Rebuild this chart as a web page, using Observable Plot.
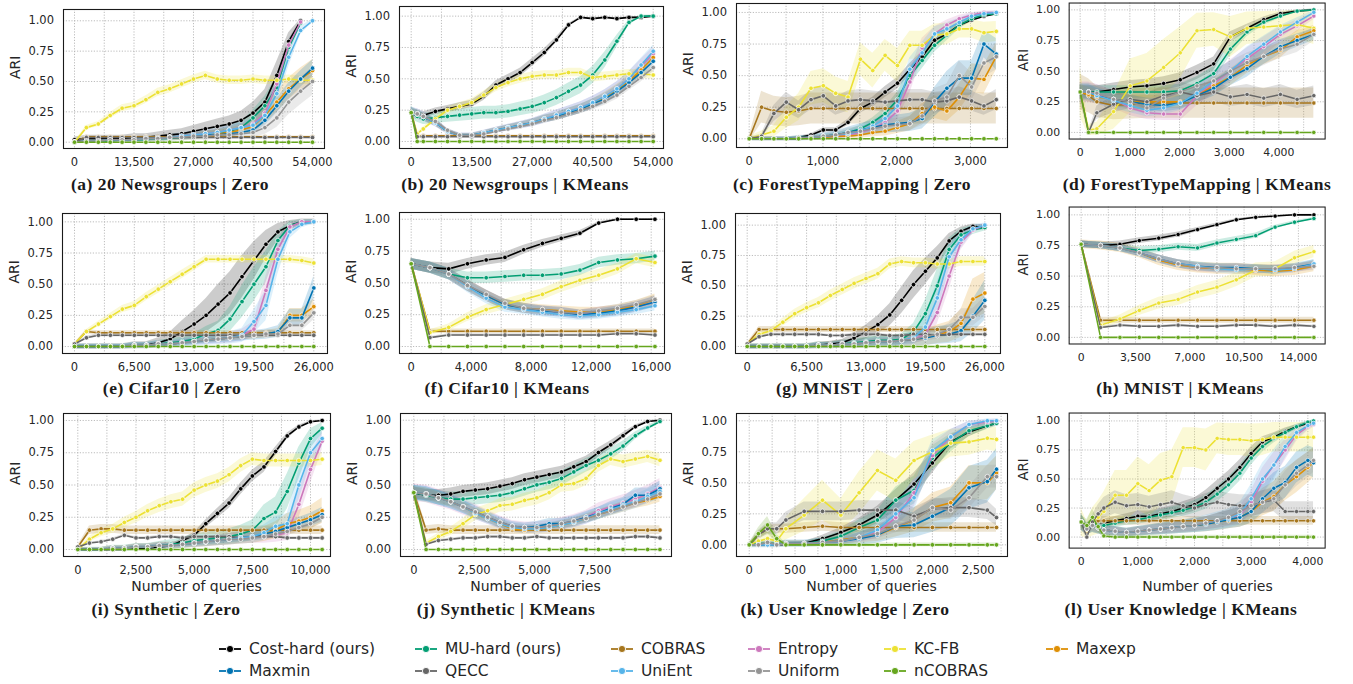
<!DOCTYPE html>
<html><head><meta charset="utf-8">
<script src="https://cdn.jsdelivr.net/npm/d3@7"></script>
<script src="https://cdn.jsdelivr.net/npm/@observablehq/plot@0.6"></script>
<style>
body{margin:0;background:#fff;width:1353px;height:684px;overflow:hidden;position:relative;font-family:"DejaVu Sans",sans-serif;}
.panel{position:absolute;}
.title{position:absolute;font-family:"Liberation Serif",serif;font-weight:bold;font-size:17.5px;letter-spacing:0.5px;white-space:nowrap;transform:translate(-50%,-50%);color:#1a1a1a;}
.xlab{position:absolute;font-size:14px;white-space:nowrap;transform:translate(-50%,-50%);color:#262626;}
.leg{position:absolute;display:flex;align-items:center;font-size:15.5px;color:#262626;white-space:nowrap;transform:translateY(-50%);}
.leg svg{margin-right:8px;}
</style></head><body>
<script>
const SERIES = ["Cost-hard (ours)","MU-hard (ours)","COBRAS","Entropy","KC-FB","Maxexp","Maxmin","QECC","UniEnt","Uniform","nCOBRAS"];
const COLORS = ["#000000","#029e73","#a6761d","#cc78bc","#ece133","#de8f05","#0173b2","#666666","#56b4e9","#949494","#66a61e"];
const Y_TICKS = [0,0.25,0.5,0.75,1];

// (a) 20 Newsgroups | Zero
const xA = [0,2700,5400,8100,10800,13500,16200,18900,21600,24300,27000,29700,32400,35100,37800,40500,43200,45900,48600,51300,54000];
const yA = [
 [0.02,0.03,0.03,0.03,0.03,0.04,0.04,0.05,0.06,0.07,0.09,0.11,0.13,0.15,0.18,0.24,0.33,0.55,0.83,1.0,null],
 [0,0.01,0.01,0.01,0.02,0.02,0.02,0.03,0.03,0.04,0.05,0.06,0.07,0.09,0.12,0.2,0.3,0.45,0.78,0.98,null],
 [0,0.045,0.045,0.045,0.045,0.045,0.045,0.045,0.045,0.045,0.045,0.045,0.045,0.045,0.045,0.045,0.045,0.045,0.045,0.045,0.045],
 [0,0.01,0.01,0.02,0.02,0.02,0.03,0.03,0.04,0.05,0.06,0.07,0.08,0.1,0.12,0.15,0.24,0.48,0.8,0.99,null],
 [0,0.12,0.15,0.22,0.28,0.30,0.35,0.41,0.44,0.48,0.52,0.55,0.52,0.51,0.51,0.52,0.51,0.51,0.52,0.51,0.51],
 [0,0.01,0.01,0.02,0.02,0.02,0.03,0.03,0.04,0.04,0.05,0.06,0.07,0.08,0.1,0.13,0.22,0.33,0.44,0.52,0.59],
 [0,0.01,0.01,0.02,0.02,0.02,0.03,0.03,0.04,0.04,0.05,0.06,0.06,0.07,0.08,0.1,0.18,0.3,0.42,0.52,0.61],
 [0,0.038,0.038,0.038,0.038,0.038,0.038,0.038,0.038,0.038,0.038,0.038,0.038,0.038,0.038,0.038,0.038,0.038,0.038,0.038,0.038],
 [0,0.01,0.01,0.02,0.02,0.02,0.03,0.03,0.04,0.05,0.06,0.07,0.08,0.1,0.12,0.14,0.22,0.4,0.7,0.92,1.0],
 [0,0.01,0.01,0.02,0.02,0.02,0.03,0.03,0.04,0.04,0.05,0.05,0.06,0.06,0.07,0.08,0.12,0.2,0.33,0.42,0.5],
 [0,0,0,0,0,0,0,0,0,0,0,0,0,0,0,0,0,0,0,0,0]
];
const sA = [0.1,0.08,0.02,0.06,0.03,0.08,0.06,0.02,0.08,0.1,0];
const ticksA = [0,13500,27000,40500,54000];
const gridA = [0,6750,13500,20250,27000,33750,40500,47250,54000];

// (b) 20 Newsgroups | KMeans
const xB = [0,1350,2700,5400,8100,10800,13500,16200,18900,21600,24300,27000,29700,32400,35100,37800,40500,43200,45900,48600,51300,54000];
const yB = [
 [0.23,0.2,0.21,0.24,0.26,0.28,0.3,0.36,0.45,0.5,0.55,0.63,0.71,0.81,0.93,0.99,0.98,0.99,0.98,0.99,0.99,1.0],
 [0.23,0.2,0.18,0.19,0.2,0.21,0.22,0.23,0.23,0.24,0.26,0.28,0.31,0.35,0.4,0.45,0.53,0.65,0.8,0.95,1.0,1.0],
 [0.23,0.045,0.045,0.045,0.045,0.045,0.045,0.045,0.045,0.045,0.045,0.045,0.045,0.045,0.045,0.045,0.045,0.045,0.045,0.045,0.045,0.045],
 [0.23,0.22,0.2,0.15,0.08,0.05,0.05,0.07,0.09,0.11,0.13,0.15,0.18,0.21,0.24,0.27,0.31,0.36,0.42,0.5,0.6,0.7],
 [0.23,0.06,0.1,0.18,0.25,0.28,0.31,0.37,0.43,0.47,0.5,0.52,0.53,0.53,0.55,0.55,0.51,0.52,0.53,0.54,0.54,0.53],
 [0.23,0.22,0.2,0.15,0.08,0.05,0.05,0.07,0.09,0.11,0.13,0.15,0.18,0.2,0.23,0.26,0.3,0.35,0.41,0.48,0.57,0.67],
 [0.23,0.22,0.2,0.15,0.08,0.05,0.05,0.07,0.09,0.11,0.13,0.15,0.18,0.2,0.23,0.26,0.3,0.34,0.4,0.47,0.55,0.64],
 [0.23,0.038,0.038,0.038,0.038,0.038,0.038,0.038,0.038,0.038,0.038,0.038,0.038,0.038,0.038,0.038,0.038,0.038,0.038,0.038,0.038,0.038],
 [0.23,0.22,0.2,0.15,0.08,0.05,0.05,0.07,0.09,0.11,0.13,0.15,0.18,0.21,0.24,0.27,0.31,0.36,0.42,0.5,0.61,0.72],
 [0.23,0.22,0.2,0.16,0.09,0.05,0.05,0.06,0.08,0.1,0.12,0.14,0.17,0.19,0.22,0.25,0.28,0.32,0.37,0.44,0.51,0.59],
 [0.23,0,0,0,0,0,0,0,0,0,0,0,0,0,0,0,0,0,0,0,0,0]
];
const sB = [0.03,0.06,0.02,0.05,0.03,0.04,0.04,0.02,0.05,0.03,0];
const ticksB = [0,13500,27000,40500,54000];
const gridB = [0,6750,13500,20250,27000,33750,40500,47250,54000];

// (c) ForestTypeMapping | Zero
const xC = [0,168,335,503,670,838,1005,1173,1340,1508,1675,1843,2010,2178,2345,2513,2680,2848,3015,3183,3350];
const yC = [
 [0,0,0,0,0.01,0.03,0.07,0.07,0.13,0.24,0.29,0.37,0.44,0.55,0.65,0.78,0.83,0.9,0.94,0.97,0.99],
 [0,0,0,0,0.01,0.01,0.02,0.03,0.05,0.08,0.13,0.2,0.31,0.5,0.62,0.74,0.82,0.9,0.95,0.98,0.99],
 [0,0.25,0.22,0.21,0.22,0.24,0.24,0.24,0.24,0.24,0.24,0.24,0.24,0.24,0.24,0.24,0.24,0.24,0.24,0.24,0.24],
 [0,0,0,0,0,0.01,0.01,0.02,0.03,0.05,0.08,0.13,0.22,0.45,0.72,0.83,0.9,0.95,0.98,1.0,1.0],
 [0,0.03,0.06,0.17,0.25,0.4,0.42,0.36,0.33,0.63,0.54,0.66,0.58,0.74,0.74,0.82,0.83,0.87,0.87,0.84,0.85],
 [0,0,0,0,0,0.01,0.01,0.02,0.02,0.03,0.05,0.06,0.09,0.12,0.2,0.25,0.22,0.33,0.48,0.47,0.65],
 [0,0,0,0,0,0.01,0.02,0.03,0.05,0.07,0.09,0.11,0.12,0.13,0.16,0.29,0.4,0.48,0.48,0.75,0.67],
 [0,0.02,0.2,0.29,0.23,0.31,0.34,0.26,0.3,0.31,0.3,0.29,0.3,0.31,0.31,0.29,0.3,0.33,0.3,0.26,0.31],
 [0,0,0,0,0.01,0.01,0.02,0.03,0.04,0.06,0.1,0.16,0.26,0.55,0.68,0.83,0.87,0.92,0.97,0.99,1.0],
 [0,0,0,0,0.01,0.01,0.02,0.03,0.05,0.06,0.08,0.1,0.11,0.12,0.18,0.3,0.33,0.5,0.41,0.6,0.65],
 [0,0,0,0,0,0,0,0,0,0,0,0,0,0,0,0,0,0,0,0,0]
];
const sC = [0.04,0.06,0.14,0.08,0.12,0.1,0.12,0.08,0.08,0.1,0.01];
const ticksC = [0,1000,2000,3000];
const gridC = [0,500,1000,1500,2000,2500,3000,3500];

// (d) ForestTypeMapping | KMeans
const xD = [0,168,336,672,1008,1344,1680,2016,2352,2688,3024,3360,3696,4032,4368,4704];
const yD = [
 [0.33,0.33,0.33,0.35,0.37,0.38,0.4,0.43,0.49,0.56,0.78,0.85,0.92,0.97,0.99,1.0],
 [0.33,0.33,0.33,0.33,0.33,0.33,0.33,0.34,0.4,0.48,0.68,0.82,0.9,0.95,0.99,1.0],
 [0.33,0.3,0.25,0.22,0.23,0.24,0.24,0.24,0.24,0.24,0.24,0.24,0.24,0.24,0.24,0.24],
 [0.33,0.33,0.31,0.27,0.2,0.16,0.15,0.15,0.3,0.4,0.5,0.6,0.7,0.8,0.87,0.95],
 [0.33,0.02,0.03,0.17,0.38,0.42,0.53,0.65,0.83,0.84,0.78,0.85,0.86,0.87,0.88,0.85],
 [0.33,0.31,0.29,0.27,0.25,0.25,0.25,0.25,0.3,0.38,0.45,0.55,0.62,0.67,0.78,0.83],
 [0.33,0.33,0.3,0.27,0.25,0.23,0.22,0.24,0.3,0.36,0.45,0.52,0.62,0.7,0.75,0.8],
 [0.33,0.0,0.16,0.23,0.27,0.25,0.3,0.33,0.3,0.33,0.29,0.31,0.28,0.31,0.27,0.3],
 [0.33,0.33,0.3,0.26,0.22,0.18,0.2,0.24,0.32,0.42,0.5,0.62,0.72,0.82,0.9,0.98],
 [0.33,0.33,0.32,0.27,0.25,0.2,0.28,0.33,0.38,0.42,0.5,0.57,0.62,0.68,0.72,0.8],
 [0.33,0,0,0,0,0,0,0,0,0,0,0,0,0,0,0]
];
const sD = [0.05,0.05,0.14,0.08,0.2,0.06,0.06,0.08,0.07,0.07,0.01];
const ticksD = [0,1000,2000,3000,4000];
const gridD = [0,500,1000,1500,2000,2500,3000,3500,4000,4500];

// (e) Cifar10 | Zero
const xE = [0,1300,2600,3900,5200,6500,7800,9100,10400,11700,13000,14300,15600,16900,18200,19500,20800,22100,23400,24700,26000];
const yE = [
 [0,0,0,0,0,0.01,0.01,0.03,0.06,0.12,0.18,0.25,0.34,0.43,0.56,0.69,0.82,0.92,0.97,1.0,1.0],
 [0,0,0,0,0,0.01,0.01,0.02,0.03,0.04,0.06,0.1,0.13,0.22,0.36,0.5,0.64,0.85,0.97,1.0,1.0],
 [0.02,0.12,0.11,0.11,0.11,0.11,0.11,0.11,0.11,0.11,0.11,0.11,0.11,0.11,0.11,0.11,0.11,0.11,0.11,0.11,0.11],
 [0,0,0,0,0,0.01,0.01,0.02,0.02,0.03,0.04,0.05,0.06,0.07,0.09,0.14,0.45,0.78,0.96,1.0,1.0],
 [0.02,0.12,0.18,0.24,0.3,0.33,0.4,0.46,0.52,0.58,0.64,0.7,0.7,0.7,0.7,0.7,0.7,0.7,0.7,0.69,0.67],
 [0,0,0,0,0,0.01,0.01,0.02,0.02,0.03,0.04,0.05,0.06,0.07,0.08,0.09,0.1,0.11,0.25,0.25,0.32],
 [0,0,0,0,0,0.01,0.01,0.02,0.02,0.03,0.04,0.05,0.06,0.07,0.08,0.09,0.1,0.12,0.23,0.23,0.47],
 [0.02,0.07,0.09,0.09,0.09,0.09,0.09,0.09,0.09,0.09,0.09,0.09,0.09,0.09,0.09,0.09,0.09,0.09,0.09,0.09,0.09],
 [0,0,0,0,0,0.01,0.01,0.02,0.02,0.03,0.04,0.05,0.06,0.07,0.09,0.2,0.33,0.7,0.92,0.98,1.0],
 [0,0,0,0,0,0.01,0.01,0.02,0.02,0.03,0.04,0.05,0.06,0.07,0.08,0.09,0.1,0.1,0.17,0.17,0.27],
 [0,0,0,0,0,0,0,0,0,0,0,0,0,0,0,0,0,0,0,0,0]
];
const sE = [0.15,0.12,0.03,0.1,0.03,0.06,0.08,0.03,0.12,0.06,0];
const ticksE = [0,6500,13000,19500,26000];
const gridE = [0,3250,6500,9750,13000,16250,19500,22750,26000];

// (f) Cifar10 | KMeans
const xF = [0,1250,2500,3750,5000,6250,7500,8750,10000,11250,12500,13750,15000,16250];
const yF = [
 [0.65,0.62,0.61,0.65,0.68,0.7,0.76,0.81,0.85,0.89,0.97,1.0,1.0,1.0],
 [0.65,0.62,0.57,0.54,0.54,0.55,0.56,0.56,0.57,0.6,0.66,0.68,0.69,0.71],
 [0.65,0.12,0.12,0.12,0.12,0.12,0.12,0.12,0.12,0.12,0.12,0.12,0.12,0.12],
 [0.65,0.62,0.57,0.48,0.4,0.33,0.3,0.28,0.27,0.25,0.27,0.28,0.31,0.35],
 [0.65,0.11,0.15,0.23,0.29,0.33,0.37,0.41,0.47,0.52,0.56,0.61,0.69,0.66],
 [0.65,0.62,0.57,0.48,0.4,0.33,0.3,0.29,0.28,0.27,0.27,0.29,0.32,0.37],
 [0.65,0.62,0.57,0.48,0.4,0.33,0.3,0.28,0.27,0.25,0.26,0.28,0.31,0.35],
 [0.65,0.07,0.09,0.09,0.09,0.09,0.09,0.09,0.09,0.09,0.09,0.1,0.1,0.09],
 [0.65,0.62,0.57,0.47,0.38,0.31,0.29,0.27,0.25,0.24,0.25,0.27,0.29,0.32],
 [0.65,0.62,0.57,0.48,0.41,0.34,0.3,0.29,0.27,0.26,0.28,0.3,0.33,0.37],
 [0.65,0,0,0,0,0,0,0,0,0,0,0,0,0]
];
const sF = [0.04,0.04,0.03,0.04,0.04,0.04,0.04,0.02,0.04,0.03,0];
const ticksF = [0,4000,8000,12000,16000];
const gridF = [0,2000,4000,6000,8000,10000,12000,14000,16000];

// (g) MNIST | Zero
const xG = [0,1300,2600,3900,5200,6500,7800,9100,10400,11700,13000,14300,15600,16900,18200,19500,20800,22100,23400,24700,26000];
const yG = [
 [0,0,0,0,0,0,0.01,0.02,0.03,0.07,0.12,0.18,0.26,0.38,0.51,0.62,0.73,0.87,0.95,0.99,0.98],
 [0,0,0,0,0,0,0.01,0.01,0.02,0.03,0.04,0.05,0.05,0.06,0.12,0.27,0.5,0.8,0.92,0.96,0.98],
 [0.02,0.14,0.14,0.14,0.14,0.14,0.14,0.14,0.14,0.14,0.14,0.14,0.14,0.14,0.14,0.14,0.14,0.14,0.14,0.14,0.14],
 [0,0,0,0,0,0,0.01,0.01,0.02,0.02,0.03,0.04,0.04,0.05,0.06,0.1,0.28,0.58,0.86,0.96,1.0],
 [0.02,0.1,0.13,0.2,0.27,0.32,0.36,0.42,0.47,0.52,0.56,0.6,0.68,0.7,0.69,0.69,0.68,0.68,0.7,0.7,0.7],
 [0,0,0,0,0,0,0.01,0.01,0.02,0.02,0.03,0.04,0.04,0.05,0.06,0.07,0.1,0.12,0.19,0.39,0.44],
 [0,0,0,0,0,0,0.01,0.01,0.02,0.02,0.03,0.04,0.04,0.05,0.06,0.07,0.09,0.1,0.13,0.25,0.38],
 [0.02,0.08,0.1,0.1,0.1,0.1,0.1,0.09,0.09,0.1,0.1,0.1,0.09,0.09,0.1,0.1,0.09,0.1,0.1,0.1,0.1],
 [0,0,0,0,0,0,0.01,0.01,0.02,0.02,0.03,0.04,0.04,0.05,0.07,0.16,0.4,0.74,0.88,0.97,1.0],
 [0,0,0,0,0,0,0.01,0.01,0.02,0.02,0.03,0.04,0.04,0.05,0.06,0.08,0.1,0.14,0.24,0.24,0.33],
 [0,0,0,0,0,0,0,0,0,0,0,0,0,0,0,0,0,0,0,0,0]
];
const sG = [0.1,0.12,0.04,0.1,0.04,0.15,0.15,0.02,0.12,0.08,0];
const ticksG = [0,6500,13000,19500,26000];
const gridG = [0,3250,6500,9750,13000,16250,19500,22750,26000];

// (h) MNIST | KMeans
const xH = [0,1250,2500,3750,5000,6250,7500,8750,10000,11250,12500,13750,15000];
const yH = [
 [0.76,0.75,0.76,0.79,0.81,0.84,0.88,0.92,0.96,0.98,0.99,1.0,1.0],
 [0.76,0.75,0.73,0.71,0.72,0.74,0.73,0.77,0.8,0.83,0.9,0.94,0.97],
 [0.76,0.14,0.14,0.14,0.14,0.14,0.14,0.14,0.14,0.14,0.14,0.14,0.14],
 [0.76,0.75,0.73,0.69,0.64,0.6,0.57,0.56,0.57,0.55,0.56,0.56,0.59],
 [0.76,0.1,0.15,0.22,0.28,0.31,0.37,0.41,0.47,0.55,0.56,0.65,0.7],
 [0.76,0.75,0.73,0.69,0.63,0.59,0.57,0.56,0.56,0.55,0.54,0.55,0.58],
 [0.76,0.75,0.73,0.69,0.64,0.6,0.58,0.57,0.57,0.56,0.55,0.57,0.6],
 [0.76,0.08,0.1,0.09,0.09,0.1,0.09,0.09,0.1,0.1,0.09,0.1,0.09],
 [0.76,0.75,0.73,0.69,0.64,0.6,0.58,0.56,0.55,0.56,0.55,0.56,0.6],
 [0.76,0.75,0.73,0.69,0.64,0.6,0.57,0.57,0.56,0.56,0.56,0.57,0.58],
 [0.76,0,0,0,0,0,0,0,0,0,0,0,0]
];
const sH = [0.03,0.03,0.04,0.03,0.05,0.04,0.03,0.02,0.03,0.03,0];
const ticksH = [0,3500,7000,10500,14000];
const gridH = [0,1750,3500,5250,7000,8750,10500,12250,14000];

// (i) Synthetic | Zero
const xI = [0,500,1000,1500,2000,2500,3000,3500,4000,4500,5000,5500,6000,6500,7000,7500,8000,8500,9000,9500,10000,10500];
const yI = [
 [0,0,0,0,0,0.01,0.01,0.02,0.03,0.07,0.11,0.2,0.28,0.36,0.47,0.57,0.64,0.76,0.88,0.95,0.99,1.0],
 [0,0,0,0.01,0.01,0.02,0.02,0.03,0.04,0.05,0.07,0.08,0.09,0.1,0.12,0.15,0.24,0.29,0.45,0.67,0.86,0.94],
 [0.02,0.15,0.16,0.16,0.15,0.15,0.15,0.15,0.15,0.15,0.15,0.15,0.15,0.15,0.15,0.15,0.15,0.15,0.15,0.15,0.15,0.15],
 [0,0,0,0.01,0.01,0.02,0.02,0.03,0.03,0.04,0.05,0.06,0.07,0.08,0.09,0.1,0.1,0.11,0.13,0.35,0.62,0.84],
 [0,0.08,0.13,0.16,0.21,0.25,0.3,0.34,0.37,0.39,0.46,0.5,0.53,0.58,0.65,0.7,0.69,0.69,0.69,0.69,0.69,0.7],
 [0,0,0,0.01,0.01,0.02,0.02,0.03,0.03,0.04,0.05,0.06,0.07,0.08,0.09,0.1,0.12,0.15,0.2,0.22,0.25,0.3],
 [0,0,0,0.01,0.01,0.02,0.02,0.03,0.03,0.04,0.05,0.06,0.07,0.08,0.09,0.1,0.12,0.14,0.17,0.2,0.23,0.27],
 [0.02,0.05,0.06,0.08,0.11,0.09,0.09,0.1,0.1,0.09,0.1,0.1,0.1,0.1,0.09,0.1,0.1,0.1,0.09,0.09,0.09,0.09],
 [0,0,0,0.01,0.01,0.02,0.02,0.03,0.03,0.04,0.05,0.06,0.07,0.08,0.09,0.1,0.13,0.18,0.2,0.5,0.75,0.86],
 [0,0,0,0.01,0.01,0.02,0.02,0.03,0.03,0.04,0.05,0.06,0.07,0.08,0.08,0.09,0.1,0.12,0.14,0.17,0.2,0.25],
 [0,0,0,0,0,0,0,0,0,0,0,0,0,0,0,0,0,0,0,0,0,0]
];
const sI = [0.04,0.12,0.05,0.1,0.05,0.1,0.06,0.02,0.1,0.05,0];
const ticksI = [0,2500,5000,7500,10000];
const gridI = [0,1250,2500,3750,5000,6250,7500,8750,10000];

// (j) Synthetic | KMeans
const xJ = [0,510,1020,1530,2040,2550,3060,3570,4080,4590,5100,5610,6120,6630,7140,7650,8160,8670,9180,9690,10200];
const yJ = [
 [0.44,0.42,0.42,0.43,0.45,0.46,0.47,0.49,0.51,0.54,0.56,0.58,0.6,0.64,0.68,0.75,0.81,0.88,0.95,0.99,1.0],
 [0.44,0.42,0.4,0.39,0.39,0.4,0.41,0.42,0.44,0.47,0.5,0.52,0.55,0.6,0.65,0.69,0.74,0.8,0.88,0.94,0.99],
 [0.44,0.15,0.16,0.15,0.15,0.15,0.15,0.15,0.15,0.15,0.15,0.15,0.15,0.15,0.15,0.15,0.15,0.15,0.15,0.15,0.15],
 [0.44,0.43,0.4,0.37,0.33,0.29,0.25,0.21,0.18,0.17,0.17,0.18,0.2,0.22,0.25,0.3,0.33,0.36,0.39,0.43,0.48],
 [0.44,0.05,0.1,0.14,0.2,0.27,0.3,0.34,0.35,0.38,0.4,0.44,0.5,0.51,0.55,0.65,0.7,0.68,0.7,0.72,0.69],
 [0.44,0.43,0.4,0.37,0.33,0.28,0.24,0.2,0.16,0.15,0.16,0.17,0.19,0.21,0.24,0.27,0.3,0.33,0.36,0.38,0.41],
 [0.44,0.43,0.4,0.37,0.33,0.29,0.25,0.21,0.18,0.17,0.18,0.2,0.2,0.22,0.25,0.28,0.32,0.35,0.42,0.42,0.47],
 [0.44,0.04,0.07,0.08,0.09,0.09,0.1,0.1,0.09,0.09,0.1,0.09,0.09,0.09,0.09,0.09,0.09,0.09,0.1,0.1,0.09],
 [0.44,0.43,0.4,0.37,0.33,0.28,0.24,0.2,0.17,0.16,0.16,0.17,0.19,0.21,0.24,0.28,0.31,0.34,0.37,0.41,0.45],
 [0.44,0.43,0.4,0.37,0.33,0.29,0.25,0.21,0.18,0.17,0.17,0.18,0.2,0.22,0.24,0.27,0.3,0.33,0.36,0.39,0.43],
 [0.44,0,0,0,0,0,0,0,0,0,0,0,0,0,0,0,0,0,0,0,0]
];
const sJ = [0.04,0.05,0.05,0.06,0.05,0.04,0.05,0.02,0.05,0.03,0];
const ticksJ = [0,2500,5000,7500];
const gridJ = [0,1250,2500,3750,5000,6250,7500,8750,10000];

// (k) User Knowledge | Zero
const xK = [0,100,200,300,400,600,800,1000,1200,1400,1600,1800,2000,2200,2400,2600,2700];
const yK = [
 [0,0,0,0,0.005,0.01,0.05,0.1,0.16,0.24,0.36,0.49,0.66,0.83,0.91,0.96,0.98],
 [0,0.01,0.01,0.01,0.01,0.01,0.03,0.07,0.14,0.2,0.36,0.44,0.7,0.82,0.92,0.96,0.98],
 [0,0.08,0.13,0.13,0.13,0.14,0.15,0.14,0.14,0.14,0.14,0.14,0.14,0.14,0.14,0.14,0.14],
 [0,0,0,0,0.01,0.01,0.02,0.03,0.06,0.1,0.22,0.42,0.72,0.87,0.97,0.99,1.0],
 [0,0.03,0.05,0.03,0.13,0.24,0.36,0.24,0.42,0.6,0.52,0.68,0.75,0.82,0.83,0.86,0.85],
 [0,0,0,0,0.01,0.01,0.02,0.04,0.06,0.08,0.14,0.2,0.3,0.34,0.5,0.5,0.58],
 [0,0,0,0,0.01,0.01,0.02,0.03,0.05,0.08,0.15,0.16,0.23,0.3,0.46,0.51,0.61],
 [0,0.08,0.13,0.13,0.2,0.27,0.27,0.27,0.28,0.28,0.28,0.23,0.29,0.3,0.3,0.28,0.22],
 [0,0,0,0,0.01,0.01,0.02,0.03,0.06,0.12,0.25,0.38,0.76,0.87,0.97,1.0,1.0],
 [0,0,0.02,0,0.01,0.01,0.02,0.03,0.06,0.09,0.15,0.2,0.3,0.28,0.38,0.55,0.55],
 [0,0.09,0.16,0.05,0,0,0,0,0,0,0,0,0,0,0,0,0]
];
const sK = [0.08,0.1,0.06,0.1,0.15,0.12,0.15,0.08,0.1,0.08,0.1];
const ticksK = [0,500,1000,1500,2000,2500];
const gridK = [0,250,500,750,1000,1250,1500,1750,2000,2250,2500,2750];

// (l) User Knowledge | KMeans
const xL = [0,100,200,300,400,600,800,1000,1200,1400,1600,1800,2000,2200,2400,2600,2800,3000,3200,3400,3600,3800,4000,4100];
const yL = [
 [0.13,0.06,0.12,0.11,0.12,0.14,0.16,0.18,0.18,0.2,0.22,0.25,0.28,0.34,0.42,0.5,0.6,0.72,0.82,0.86,0.91,0.95,0.98,0.99],
 [0.13,0.06,0.12,0.1,0.1,0.12,0.14,0.15,0.17,0.19,0.21,0.23,0.26,0.3,0.37,0.45,0.55,0.68,0.78,0.85,0.9,0.95,0.99,1.0],
 [0.13,0.05,0.12,0.14,0.14,0.14,0.14,0.14,0.14,0.14,0.14,0.14,0.14,0.14,0.14,0.14,0.14,0.14,0.14,0.14,0.14,0.14,0.14,0.14],
 [0.13,0.07,0.1,0.08,0.06,0.05,0.04,0.05,0.06,0.07,0.08,0.09,0.1,0.12,0.14,0.16,0.19,0.3,0.48,0.62,0.75,0.88,0.95,0.97],
 [0.13,0.06,0.13,0.17,0.22,0.36,0.36,0.46,0.4,0.49,0.52,0.77,0.77,0.75,0.85,0.84,0.84,0.83,0.84,0.86,0.86,0.86,0.86,0.86],
 [0.13,0.07,0.1,0.08,0.06,0.05,0.04,0.05,0.06,0.07,0.08,0.09,0.1,0.11,0.13,0.15,0.17,0.22,0.3,0.35,0.45,0.52,0.6,0.64],
 [0.13,0.07,0.1,0.08,0.06,0.05,0.04,0.05,0.06,0.07,0.08,0.09,0.1,0.11,0.13,0.15,0.17,0.22,0.33,0.42,0.47,0.6,0.66,0.64],
 [0.13,0.0,0.13,0.2,0.25,0.3,0.27,0.28,0.26,0.28,0.3,0.27,0.25,0.28,0.3,0.28,0.27,0.27,0.3,0.32,0.22,0.22,0.22,0.22],
 [0.13,0.07,0.1,0.08,0.06,0.05,0.04,0.05,0.06,0.07,0.08,0.09,0.1,0.12,0.14,0.16,0.2,0.33,0.5,0.62,0.78,0.9,0.96,0.98],
 [0.13,0.07,0.1,0.08,0.06,0.05,0.04,0.05,0.06,0.07,0.08,0.09,0.1,0.12,0.14,0.17,0.22,0.27,0.3,0.33,0.45,0.55,0.62,0.66],
 [0.13,0.1,0.17,0.09,0.01,0,0,0,0,0,0,0,0,0,0,0,0,0,0,0,0,0,0,0]
];
const sL = [0.06,0.06,0.06,0.1,0.2,0.12,0.12,0.1,0.12,0.1,0.1];
const ticksL = [0,1000,2000,3000,4000];
const gridL = [0,500,1000,1500,2000,2500,3000,3500,4000];

// layout table (positions in px) built from the arrays above
const PANELS = [
 {t:"(a) 20 Newsgroups | Zero", x:xA, ys:yA, s:sA, ticks:ticksA, grid:gridA, fl:63, fr:324, ft:9, fb:148, xd:[-2496,56723], yd:[-0.052,1.093], tc:170, ty:184},
 {t:"(b) 20 Newsgroups | KMeans", x:xB, ys:yB, s:sB, ticks:ticksB, grid:gridB, fl:399, fr:663, ft:6, fb:148, xd:[-2610,56298], yd:[-0.056,1.077], tc:515, ty:184},
 {t:"(c) ForestTypeMapping | Zero", x:xC, ys:yC, s:sC, ticks:ticksC, grid:gridC, fl:736, fr:1007, ft:3, fb:147, xd:[-172,3502], yd:[-0.069,1.071], tc:852, ty:184},
 {t:"(d) ForestTypeMapping | KMeans", x:xD, ys:yD, s:sD, ticks:ticksD, grid:gridD, fl:1072, fr:1343, ft:3, fb:147, xd:[-222,4932], yd:[-0.054,1.056], tc:1197, ty:184},
 {t:"(e) Cifar10 | Zero", x:xE, ys:yE, s:sE, ticks:ticksE, grid:gridE, fl:62, fr:327, ft:213, fb:353, xd:[-1304,27488], yd:[-0.056,1.067], tc:172, ty:388},
 {t:"(f) Cifar10 | KMeans", x:xF, ys:yF, s:sF, ticks:ticksF, grid:gridF, fl:399, fr:664, ft:212, fb:353, xd:[-780,16887], yd:[-0.055,1.053], tc:507, ty:388},
 {t:"(g) MNIST | Zero", x:xG, ys:yG, s:sG, ticks:ticksG, grid:gridG, fl:735, fr:1000, ft:213, fb:353, xd:[-1280,27718], yd:[-0.058,1.096], tc:845, ty:388},
 {t:"(h) MNIST | KMeans", x:xH, ys:yH, s:sH, ticks:ticksH, grid:gridH, fl:1072, fr:1343, ft:207, fb:352, xd:[-773,15723], yd:[-0.054,1.064], tc:1180, ty:388},
 {t:"(i) Synthetic | Zero", x:xI, ys:yI, s:sI, ticks:ticksI, grid:gridI, fl:63, fr:330, ft:413, fb:556, xd:[-615,10859], yd:[-0.054,1.054], tc:166, ty:609, xl:true},
 {t:"(j) Synthetic | KMeans", x:xJ, ys:yJ, s:sJ, ticks:ticksJ, grid:gridJ, fl:400, fr:671, ft:413, fb:556, xd:[-551,10678], yd:[-0.054,1.052], tc:506, ty:609, xl:true},
 {t:"(k) User Knowledge | Zero", x:xK, ys:yK, s:sK, ticks:ticksK, grid:gridK, fl:736, fr:1007, ft:413, fb:556, xd:[-139,2820], yd:[-0.094,1.059], tc:845, ty:609, xl:true},
 {t:"(l) User Knowledge | KMeans", x:xL, ys:yL, s:sL, ticks:ticksL, grid:gridL, fl:1072, fr:1343, ft:413, fb:556, xd:[-212,4305], yd:[-0.095,1.068], tc:1181, ty:609, xl:true}
];

function halfBand(y, s) { const c = Math.max(0, Math.min(1, y)); return s * (0.15 + 4 * c * (1 - c)); }

for (const p of PANELS) {
  const ml = 60, mr = 30, mt = 8, mb = 28;
  const W = p.fr - p.fl + ml + mr, H = p.fb - p.ft + mt + mb;
  const marks = [
    Plot.gridX(p.grid, {stroke: "#b4b4b4", strokeOpacity: 1, strokeWidth: 0.9, strokeDasharray: "1.2,1.6"}),
    Plot.gridY(Y_TICKS, {stroke: "#b4b4b4", strokeOpacity: 1, strokeWidth: 0.9, strokeDasharray: "1.2,1.6"})
  ];
  const rowsBy = p.ys.map((ys, k) => p.x.map((x, i) => ({x, y: ys[i], s: p.s[k]})).filter(d => d.y != null));
  rowsBy.forEach((rows, k) => {
    if (p.s[k] > 0) marks.push(Plot.areaY(rows, {x: "x", y1: d => d.y - halfBand(d.y, d.s), y2: d => d.y + halfBand(d.y, d.s), fill: COLORS[k], fillOpacity: 0.2, clip: true}));
  });
  rowsBy.forEach((rows, k) => {
    marks.push(Plot.lineY(rows, {x: "x", y: "y", stroke: COLORS[k], strokeWidth: 1.6, clip: true}));
    marks.push(Plot.dot(rows, {x: "x", y: "y", r: 2.3, fill: COLORS[k], stroke: "white", strokeWidth: 0.7, clip: true}));
  });
  marks.push(Plot.frame({stroke: "#1a1a1a", strokeWidth: 1.1}));
  marks.push(Plot.axisX(p.ticks, {tickSize: 0, tickPadding: 9.5, tickFormat: d3.format(","), fontSize: 11.5, fill: "#262626", label: null}));
  marks.push(Plot.axisY(Y_TICKS, {tickSize: 0, tickPadding: 9.5, tickFormat: d3.format(".2f"), fontSize: 11.5, fill: "#262626", label: null}));
  marks.push(Plot.text(["ARI"], {frameAnchor: "left", dx: -48, rotate: -90, fontSize: 14, fill: "#262626"}));
  const svg = Plot.plot({
    width: W, height: H, marginLeft: ml, marginRight: mr, marginTop: mt, marginBottom: mb,
    x: {domain: p.xd, label: null}, y: {domain: p.yd, label: null},
    style: {background: "transparent", overflow: "visible", fontFamily: "DejaVu Sans", fontSize: "11.5px", color: "#262626"},
    marks
  });
  const div = document.createElement("div");
  div.className = "panel";
  div.style.left = (p.fl - ml) + "px";
  div.style.top = (p.ft - mt) + "px";
  div.appendChild(svg);
  document.body.appendChild(div);
  const t = document.createElement("div");
  t.className = "title"; t.textContent = p.t;
  t.style.left = p.tc + "px"; t.style.top = p.ty + "px";
  document.body.appendChild(t);
  if (p.xl) {
    const xl = document.createElement("div");
    xl.className = "xlab"; xl.textContent = "Number of queries";
    xl.style.left = ((p.fl + p.fr) / 2) + "px"; xl.style.top = "586px";
    document.body.appendChild(xl);
  }
}

// legend
const LEG_X = [219, 415, 611, 748, 884, 1046];
const LEG_Y = [649, 671];
SERIES.forEach((name, k) => {
  const row = Math.floor(k / 6), col = k % 6;
  const d = document.createElement("div");
  d.className = "leg";
  d.style.left = LEG_X[col] + "px"; d.style.top = LEG_Y[row] + "px";
  d.innerHTML = `<svg width="22" height="10"><line x1="0" y1="5" x2="22" y2="5" stroke="${COLORS[k]}" stroke-width="1.8"/><circle cx="11" cy="5" r="3.6" fill="${COLORS[k]}" stroke="white" stroke-width="0.9"/></svg><span>${name}</span>`;
  document.body.appendChild(d);
});
</script>
</body></html>
